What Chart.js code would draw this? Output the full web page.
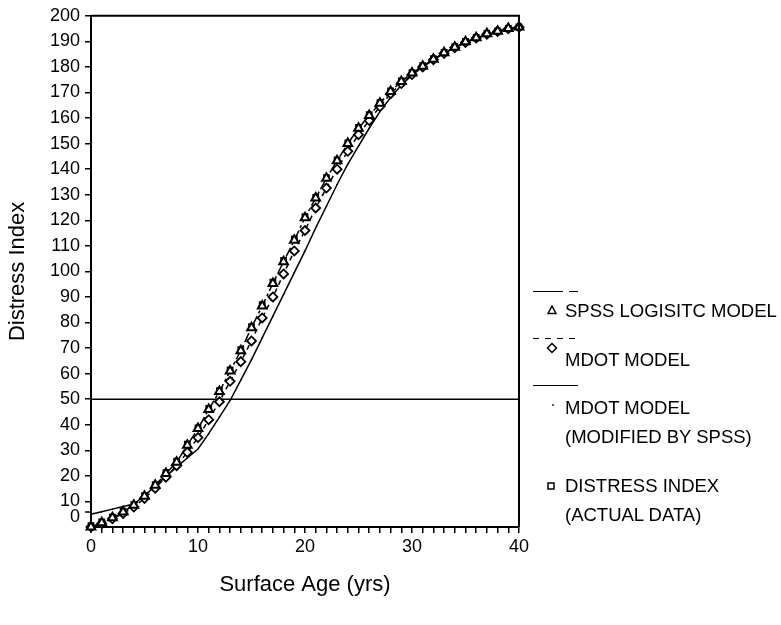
<!DOCTYPE html>
<html>
<head>
<meta charset="utf-8">
<script src="https://cdn.jsdelivr.net/npm/chart.js@4"></script>
<style>
    body { margin: 0; background: #fff; font-family: "Liberation Sans", Arial, sans-serif; }
    #wrap { position: relative; width: 781px; height: 625px; }
    .lg { position: absolute; font-size: 18.5px; line-height: 18px; color: #000; white-space: nowrap; }
    .bar { position: absolute; height: 0; border-top: 1.5px solid #000; }
    .mk { position: absolute; }
</style>
</head>
<body>
<div id="wrap">
    <canvas id="myChart"></canvas>
    <div id="legend"></div>
</div>
<script>
// surface age (yrs)
const ages = [0, 1, 2, 3, 4, 5, 6, 7, 8, 9, 10, 11, 12, 13, 14, 15, 16, 17, 18, 19, 20,
    21, 22, 23, 24, 25, 26, 27, 28, 29, 30, 31, 32, 33, 34, 35, 36, 37, 38, 39, 40];

const spssLogistic = [0, 1.7, 3.6, 5.9, 8.5, 12, 16.3, 20.9, 25.3, 32, 38.5, 46, 53, 61, 69, 78, 86.5, 95.3, 103.8, 112.2, 121,
    128.7, 136.4, 143.3, 150, 156, 161, 165.8, 170.4, 174.3, 177.6, 180.3, 183, 185.5, 187.7, 189.8, 191.4, 193, 194, 195, 195.6];

const mdotModel = [0, 1.4, 3.2, 5.3, 7.8, 11.2, 15.2, 19.5, 24, 29.2, 35, 42, 49, 57, 64.7, 72.8, 81.8, 90, 99, 108, 116,
    124.8, 132.6, 140, 147, 153.5, 159, 164.5, 169.5, 173.5, 177, 180, 182.8, 185.3, 187.5, 189.6, 191.3, 192.8, 193.9, 194.9, 195.5];

const mdotModified = [5, 6, 7, 8, 9, 12.3, 16, 19.8, 23.4, 27, 30.5, 36.5, 43, 49.5, 57.5, 65.5, 74, 82.5, 91, 99.5, 108,
    117, 125.5, 134, 142, 149, 156, 162.5, 168, 172.8, 176.8, 180, 182.8, 185.3, 187.5, 189.6, 191.3, 192.8, 193.9, 194.9, 195.5];

const distressIndex = [0.5, 2, 3.9, 6.2, 8.8, 12.3, 16.6, 21.3, 25.8, 32.4, 38.8, 46.4, 53.4, 61.5, 69.4, 78.4, 87, 95.8, 104.3, 112.7, 121.4,
    129, 136.7, 143.6, 150.3, 156.3, 161.3, 166, 170.6, 174.5, 177.8, 180.5, 183.2, 185.7, 187.9, 190, 191.6, 193.1, 194.1, 195.1, 195.7];

const limitAges = [0, 40];
const limitLevel = [50, 50];

const seriesNames = ["SPSS LOGISITC MODEL", "MDOT MODEL", "MDOT MODEL", "(MODIFIED BY SPSS)", "DISTRESS INDEX", "(ACTUAL DATA)"];

function pts(xs, ys) {
    return ys.map((v, i) => ({ x: xs[i], y: v }));
}

Chart.defaults.font.family = '"Liberation Sans", Arial, sans-serif';
Chart.defaults.color = '#000';

// frame on top/right and the odd "0" label sitting above the axis
const framePlugin = {
    id: 'frame',
    afterDraw(chart) {
        const { ctx, chartArea: a, scales } = chart;
        ctx.save();
        ctx.strokeStyle = '#000';
        ctx.lineWidth = 2;
        ctx.beginPath();
        ctx.moveTo(a.left, a.top);
        ctx.lineTo(a.right, a.top);
        ctx.lineTo(a.right, a.bottom);
        ctx.stroke();

        const y0 = scales.y.getPixelForValue(0);
        ctx.lineWidth = 1.5;
        ctx.beginPath();
        ctx.moveTo(a.left - 6, y0 - 15);
        ctx.lineTo(a.left, y0 - 15);
        ctx.stroke();
        ctx.font = '18px "Liberation Sans", Arial, sans-serif';
        ctx.fillStyle = '#000';
        ctx.textAlign = 'right';
        ctx.textBaseline = 'middle';
        ctx.fillText('0', a.left - 11, y0 - 10);
        ctx.restore();
    }
};

const config = {
    type: 'line',
    data: {
        datasets: [{
            label: seriesNames[0],
            data: pts(ages, spssLogistic),
            borderColor: '#000',
            borderWidth: 1.5,
            borderDash: [10, 3, 3, 3],
            pointStyle: 'triangle',
            pointRadius: 5,
            pointBackgroundColor: '#fff',
            pointBorderColor: '#000',
            pointBorderWidth: 2,
            clip: false,
            order: 1
        }, {
            label: seriesNames[4],
            data: pts(ages, distressIndex),
            showLine: false,
            pointStyle: 'rect',
            pointRadius: 3.5,
            pointBackgroundColor: '#fff',
            pointBorderColor: '#000',
            pointBorderWidth: 1.8,
            clip: false,
            order: 2
        }, {
            label: seriesNames[1],
            data: pts(ages, mdotModel),
            borderColor: '#000',
            borderWidth: 1.5,
            borderDash: [5, 4],
            pointStyle: 'rectRot',
            pointRadius: 4.5,
            pointBackgroundColor: '#fff',
            pointBorderColor: '#000',
            pointBorderWidth: 1.8,
            clip: false,
            order: 3
        }, {
            label: seriesNames[2],
            data: pts(ages, mdotModified),
            borderColor: '#000',
            borderWidth: 1.5,
            pointStyle: 'circle',
            pointRadius: 0.8,
            pointBackgroundColor: '#000',
            pointBorderWidth: 0,
            clip: false,
            order: 4
        }, {
            label: 'limit',
            data: pts(limitAges, limitLevel),
            borderColor: '#000',
            borderWidth: 1.5,
            pointRadius: 0,
            order: 5
        }]
    },
    options: {
        responsive: true,
        maintainAspectRatio: false,
        animation: false,
        layout: { padding: { top: 11, right: 262, bottom: 0, left: 0 } },
        plugins: {
            legend: { display: false },
            tooltip: { enabled: false }
        },
        scales: {
            x: {
                type: 'linear',
                min: 0,
                max: 40,
                afterFit: s => { s.height = 98; },
                ticks: {
                    stepSize: 1,
                    autoSkip: false,
                    maxRotation: 0,
                    padding: 3,
                    font: { size: 18 },
                    callback: v => (v % 10 === 0 ? v : '')
                },
                grid: { drawOnChartArea: false, tickLength: 6, color: '#000', lineWidth: 1.5 },
                border: { color: '#000', width: 2 },
                title: {
                    display: true,
                    text: 'Surface Age (yrs)',
                    font: { size: 22 },
                    padding: { top: 0, bottom: 27 }
                }
            },
            y: {
                min: 0,
                max: 200,
                afterFit: s => { s.width = 91; },
                ticks: {
                    stepSize: 10,
                    padding: 5,
                    font: { size: 18 },
                    callback: v => (v === 0 ? '' : v)
                },
                grid: {
                    drawOnChartArea: false,
                    tickLength: 6,
                    lineWidth: 1.5,
                    color: c => (c.tick && c.tick.value === 0 ? 'rgba(0,0,0,0)' : '#000')
                },
                border: { color: '#000', width: 2 },
                title: {
                    display: true,
                    text: 'Distress Index',
                    font: { size: 22 },
                    padding: { top: 5, bottom: 0 }
                }
            }
        }
    },
    plugins: [framePlugin]
};

var myChart = new Chart(document.getElementById('myChart'), config);

// legend: line sample on its own row, marker beside the text
const legend = document.getElementById('legend');
function add(html) { legend.insertAdjacentHTML('beforeend', html); }
function text(t, cy) { add('<div class="lg" style="left:565px;top:' + (cy - 9) + 'px">' + t + '</div>'); }
function bar(x, w, y) { add('<div class="bar" style="left:' + x + 'px;width:' + w + 'px;top:' + y + 'px"></div>'); }
function mark(svg, cx, cy) {
    add('<svg class="mk" width="12" height="12" style="left:' + (cx - 6) + 'px;top:' + (cy - 6) + 'px">' + svg + '</svg>');
}

bar(533, 30, 291); bar(569, 9, 291);
mark('<polygon points="6,2 10,9.5 2,9.5" fill="#fff" stroke="#000" stroke-width="1.5"/>', 552, 310);
text(seriesNames[0], 311);

[533, 545, 557, 569].forEach(x => bar(x, 6, 338));
mark('<polygon points="6,1.5 10.5,6 6,10.5 1.5,6" fill="#fff" stroke="#000" stroke-width="1.5"/>', 552, 348);
text(seriesNames[1], 360);

bar(533, 45, 385);
mark('<rect x="5.2" y="5.2" width="1.6" height="1.6" fill="#000"/>', 553, 405);
text(seriesNames[2], 408);
text(seriesNames[3], 437);

mark('<rect x="3" y="3" width="6" height="6" fill="#fff" stroke="#000" stroke-width="1.5"/>', 551, 486);
text(seriesNames[4], 486);
text(seriesNames[5], 515);
</script>
</body>
</html>
